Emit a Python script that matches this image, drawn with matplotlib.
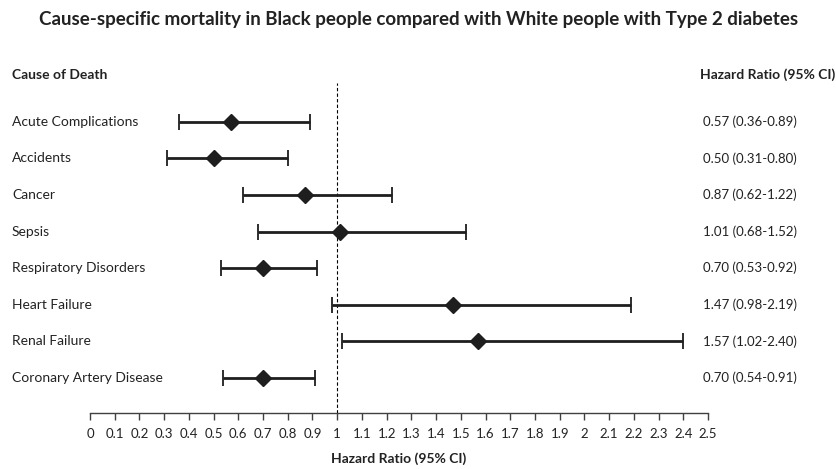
import numpy as np
import matplotlib.pyplot as plt
from matplotlib.ticker import FuncFormatter

plt.rcParams['font.family'] = ['Lato', 'DejaVu Sans']

causes = ['Acute Complications', 'Accidents', 'Cancer', 'Sepsis',
          'Respiratory Disorders', 'Heart Failure', 'Renal Failure',
          'Coronary Artery Disease']
hr = [0.57, 0.50, 0.87, 1.01, 0.70, 1.47, 1.57, 0.70]
lo = [0.36, 0.31, 0.62, 0.68, 0.53, 0.98, 1.02, 0.54]
hi = [0.89, 0.80, 1.22, 1.52, 0.92, 2.19, 2.40, 0.91]

hr = np.array(hr)
lo = np.array(lo)
hi = np.array(hi)
rows = np.arange(len(causes))

fig = plt.figure(figsize=(8.37, 4.69), dpi=100)
ax = fig.add_axes([90/837, 56/469, 618/837, 330/469])

# reference line at HR = 1
ax.axvline(1, color='black', lw=0.8, ls=(0, (3, 2)), zorder=1)

ax.errorbar(hr, rows, xerr=[hr - lo, hi - hr], fmt='D', color='#1e1e1e',
            ecolor='#1e1e1e', elinewidth=2.0, capsize=6, capthick=1.3,
            markersize=8, zorder=3)

ax.set_xlim(0, 2.5)
ax.set_ylim(7.96, -1.06)
ax.set_xticks(np.round(np.arange(0, 2.51, 0.1), 1))
ax.xaxis.set_major_formatter(FuncFormatter(lambda v, p: f'{v:g}'))
ax.tick_params(axis='x', direction='out', length=5, width=1, color='#404040',
               labelsize=9.5, pad=6, labelcolor='#222222')
ax.set_yticks([])
for s in ['top', 'left', 'right']:
    ax.spines[s].set_visible(False)
ax.spines['bottom'].set_color('#404040')
ax.spines['bottom'].set_linewidth(1)

ax.set_xlabel('Hazard Ratio (95% CI)', fontsize=10, fontweight='bold',
              color='#222222', labelpad=9)

# row labels and HR text
for i, name in enumerate(causes):
    y_fig = (469 - (121.7 + 36.6 * i)) / 469
    fig.text(12/837, y_fig, name, ha='left', va='center', fontsize=10,
             color='#222222')
    fig.text(750/837, y_fig, f'{hr[i]:.2f} ({lo[i]:.2f}-{hi[i]:.2f})',
             ha='center', va='center', fontsize=9.5, color='#222222')

fig.text(12/837, (469 - 75) / 469, 'Cause of Death', ha='left', va='center',
         fontsize=10, fontweight='bold', color='#222222')
fig.text(835/837, (469 - 75) / 469, 'Hazard Ratio (95% CI)', ha='right',
         va='center', fontsize=10, fontweight='bold', color='#222222')
fig.text(0.5, (469 - 20) / 469,
         'Cause-specific mortality in Black people compared with White people with Type 2 diabetes',
         ha='center', va='center', fontsize=13.5, fontweight='bold',
         color='#222222')

fig.savefig('out.png', dpi=100)
